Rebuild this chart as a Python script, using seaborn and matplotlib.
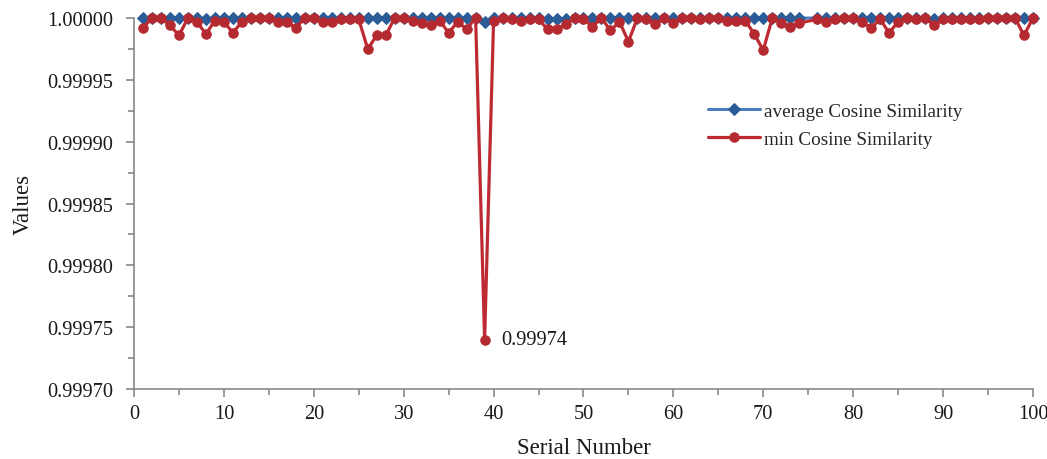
import numpy as np
import pandas as pd
import matplotlib
matplotlib.use("Agg")
import matplotlib.pyplot as plt
from matplotlib.ticker import MultipleLocator, FormatStrFormatter
import seaborn as sns

# serial numbers (no point recorded at 75)
serial = [i for i in range(1, 101) if i != 75]

# min cosine similarity (1..100 without 75)
min_cos = [
    0.999992, 1.000000, 1.000000, 0.999994, 0.999986, 1.000000, 0.999997, 0.999987, 0.999998, 0.999997,
    0.999988, 0.999997, 1.000000, 1.000000, 1.000000, 0.999997, 0.999997, 0.999992, 1.000000, 1.000000,
    0.999997, 0.999997, 0.999999, 0.999999, 0.999999, 0.999975, 0.999986, 0.999986, 1.000000, 1.000000,
    0.999998, 0.999996, 0.999994, 0.999998, 0.999988, 0.999997, 0.999991, 1.000000, 0.999740, 0.999998,
    1.000000, 0.999999, 0.999998, 0.999999, 0.999999, 0.999991, 0.999991, 0.999995, 1.000000, 0.999999,
    0.999993, 1.000000, 0.999990, 0.999997, 0.999981, 1.000000, 0.999999, 0.999995, 1.000000, 0.999996,
    1.000000, 1.000000, 0.999999, 1.000000, 1.000000, 0.999998, 0.999998, 0.999998, 0.999987, 0.999974,
    1.000000, 0.999996, 0.999993, 0.999996, 0.999999, 0.999997, 0.999999, 1.000000, 1.000000,
    0.999997, 0.999992, 0.999999, 0.999988, 0.999997, 1.000000, 0.999999, 1.000000, 0.999994, 0.999999,
    0.999999, 0.999999, 0.999999, 0.999999, 1.000000, 1.000000, 1.000000, 1.000000, 0.999986, 1.000000,
]

# average cosine similarity, almost flat at 1
avg_cos = [1.0] * len(serial)
avg_dips = {8: 0.9999995, 39: 0.999997, 46: 0.9999993, 47: 0.9999993, 48: 0.9999993, 89: 0.999999}
for k, v in avg_dips.items():
    avg_cos[serial.index(k)] = v

df = pd.DataFrame({"Serial Number": serial, "average": avg_cos, "min": min_cos})

sns.set_style("ticks")
plt.rcParams["font.family"] = ["Liberation Serif", "DejaVu Serif"]

fig = plt.figure(figsize=(10.47, 4.6), dpi=100)
ax = fig.add_axes([0.128, 0.152, 0.8586, 0.8066])

blue_line, blue_mark = "#4A7EBB", "#2B5C97"
red_line, red_mark = "#BE2A32", "#B52A30"

sns.lineplot(data=df, x="Serial Number", y="average", ax=ax, color=blue_line, lw=2.2,
             marker="D", markersize=6.5, markerfacecolor=blue_mark, markeredgecolor=blue_mark,
             label="average Cosine Similarity", zorder=3, clip_on=False)
sns.lineplot(data=df, x="Serial Number", y="min", ax=ax, color=red_line, lw=2.3,
             marker="o", markersize=6.8, markerfacecolor=red_mark, markeredgecolor=red_mark,
             label="min Cosine Similarity", zorder=4, clip_on=False)

# label the lowest point
i_min = int(np.argmin(min_cos))
ax.annotate(f"{min_cos[i_min]:.5f}", xy=(serial[i_min], min_cos[i_min]),
            xytext=(12, 0), textcoords="offset points", va="center", ha="left",
            fontsize=14.7, color="#1a1a1a")

ax.set_xlim(0, 100)
ax.set_ylim(0.99970, 1.00000)
ax.xaxis.set_major_locator(MultipleLocator(10))
ax.xaxis.set_minor_locator(MultipleLocator(5))
ax.yaxis.set_major_locator(MultipleLocator(0.00005))
ax.yaxis.set_minor_locator(MultipleLocator(0.000025))
ax.yaxis.set_major_formatter(FormatStrFormatter("%.5f"))

for side in ["top", "right"]:
    ax.spines[side].set_visible(False)
for side in ["left", "bottom"]:
    ax.spines[side].set_color("#888888")
    ax.spines[side].set_linewidth(1.2)
ax.tick_params(which="both", direction="out", color="#888888", width=1.2, labelcolor="#1a1a1a")
ax.tick_params(which="major", length=6, labelsize=14.7)
ax.tick_params(axis="y", which="major", pad=9)
ax.tick_params(axis="x", which="major", pad=5)
ax.tick_params(which="minor", length=4)

ax.set_xlabel("Serial Number", fontsize=16.5, labelpad=10, color="#1a1a1a")
ax.set_ylabel("Values", fontsize=16.5, labelpad=10, color="#1a1a1a")

ax.legend(loc="center left", bbox_to_anchor=(0.6385, 0.7116), frameon=False, fontsize=13.8,
          borderpad=0, borderaxespad=0, handlelength=2.7, handletextpad=0.2, labelspacing=0.55)

fig.savefig("out.png", dpi=100)
